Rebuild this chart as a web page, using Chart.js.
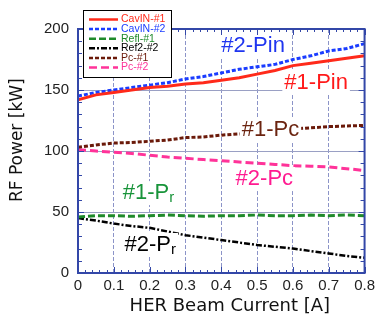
<!DOCTYPE html>
<html>
<head>
<meta charset="utf-8">
<script src="https://cdn.jsdelivr.net/npm/chart.js@4"></script>
<style>
  html, body { margin: 0; padding: 0; background: #fff; }
  #wrap { width: 379px; height: 317px; }
</style>
</head>
<body>
<div id="wrap"><canvas id="rfChart" width="379" height="317"></canvas></div>
<script>
// beam current [A]
const BEAM_CURRENT = [0, 0.05, 0.1, 0.15, 0.2, 0.25, 0.3, 0.35, 0.4, 0.45, 0.5, 0.55, 0.6, 0.65, 0.7, 0.75, 0.8];

// RF power [kW]
const CAVIN_1 = [142, 146, 148, 150, 152, 153, 155, 156, 158, 160, 163, 166, 170, 172, 174, 176, 178];
const CAVIN_2 = [145, 148, 150, 152, 154, 156, 159, 161, 164, 167, 169, 171, 175, 178, 182, 184, 188];
const REFL_1 = [46, 47, 47, 46.5, 47, 47.5, 47, 46.5, 47, 47, 47.5, 47, 47, 47.5, 47, 47.5, 47];
const REF2_2 = [45, 43, 40.5, 38.5, 37, 34, 31, 29, 27, 25, 23, 21.5, 20, 18, 16, 14, 12.5];
const PC_1 = [103, 105, 106.5, 107, 108, 109, 111, 111.5, 113, 114, 115, 116, 118, 119, 120, 120.5, 121];
const PC_2 = [101, 100, 99, 98, 96.5, 95, 94, 93, 92, 91, 90, 89, 88, 87.5, 87, 85.5, 84];

const X_TICKS = [0, 0.1, 0.2, 0.3, 0.4, 0.5, 0.6, 0.7, 0.8];
const Y_TICKS = [0, 50, 100, 150, 200];

const FONT = 'Liberation Sans, Arial, sans-serif';
const TITLE_FONT = 'DejaVu Sans, sans-serif';
const FRAME = '#3347a8';

function pts(ys) {
  return ys.map((y, i) => ({ x: BEAM_CURRENT[i], y }));
}

function series(label, ys, color, dash, width) {
  return {
    label,
    data: pts(ys),
    borderColor: color,
    backgroundColor: color,
    borderDash: dash,
    borderWidth: width,
    pointRadius: 0,
    tension: 0,
    fill: false,
  };
}

/* ---- text labels inside the plot ---- */
const TAGS = [
  { text: '#2-Pin', sub: '', x: 0.40, y: 186, color: '#1f35f0' },
  { text: '#1-Pin', sub: '', x: 0.576, y: 156, color: '#ff1a1a' },
  { text: '#1-Pc', sub: '', x: 0.457, y: 117, color: '#6b2410' },
  { text: '#2-Pc', sub: '', x: 0.44, y: 77, color: '#ff1a90' },
  { text: '#1-P', sub: 'r', x: 0.125, y: 65.5, color: '#18943a' },
  { text: '#2-P', sub: 'r', x: 0.130, y: 23, color: '#000' },
];

const tagPlugin = {
  id: 'tags',
  afterDatasetsDraw(chart) {
    const { ctx, scales: { x, y } } = chart;
    ctx.save();
    ctx.textBaseline = 'middle';
    TAGS.forEach((t) => {
      const px = x.getPixelForValue(t.x);
      const py = y.getPixelForValue(t.y);
      ctx.font = `22px ${FONT}`;
      const w1 = ctx.measureText(t.text).width;
      ctx.font = `15px ${FONT}`;
      const w2 = t.sub ? ctx.measureText(t.sub).width : 0;
      ctx.fillStyle = '#fff';
      ctx.fillRect(px - 2, py - 12, w1 + w2 + 4, 24);
      ctx.fillStyle = t.color;
      ctx.font = `22px ${FONT}`;
      ctx.fillText(t.text, px, py);
      if (t.sub) {
        ctx.font = `15px ${FONT}`;
        ctx.fillText(t.sub, px + w1, py + 5);
      }
    });
    ctx.restore();
  },
};

/* ---- frame, inner ticks and legend ---- */
const framePlugin = {
  id: 'frame',
  afterDraw(chart) {
    const { ctx, chartArea: a, scales: { x, y } } = chart;
    ctx.save();
    ctx.strokeStyle = FRAME;
    ctx.lineWidth = 1;
    ctx.beginPath();
    for (let v = 0; v <= 200; v += 10) {
      const py = Math.round(y.getPixelForValue(v)) + 0.5;
      const len = v % 50 === 0 ? 6 : 4;
      ctx.moveTo(a.left, py); ctx.lineTo(a.left + len, py);
      ctx.moveTo(a.right, py); ctx.lineTo(a.right - len, py);
    }
    for (let k = 0; k <= 40; k++) {
      const px = Math.round(x.getPixelForValue(k * 0.02)) + 0.5;
      const len = k % 5 === 0 ? 6 : 3;
      ctx.moveTo(px, a.bottom); ctx.lineTo(px, a.bottom - len);
      ctx.moveTo(px, a.top); ctx.lineTo(px, a.top + len);
    }
    ctx.stroke();
    ctx.lineWidth = 2;
    ctx.strokeRect(a.left, a.top, a.right - a.left, a.bottom - a.top);

    // legend box
    const bx = 83, by = 10, bw = 88, bh = 67;
    ctx.fillStyle = '#fff';
    ctx.fillRect(bx, by, bw, bh);
    ctx.strokeStyle = '#000';
    ctx.lineWidth = 1;
    ctx.strokeRect(bx + 0.5, by + 0.5, bw, bh);
    ctx.font = `10.5px ${FONT}`;
    ctx.textBaseline = 'middle';
    chart.data.datasets.forEach((ds, i) => {
      const ry = by + 9.5 + i * 9.6;
      ctx.strokeStyle = ds.borderColor;
      ctx.lineWidth = 2.5;
      ctx.setLineDash(ds.borderDash || []);
      ctx.beginPath();
      ctx.moveTo(bx + 6, ry);
      ctx.lineTo(bx + 35, ry);
      ctx.stroke();
      ctx.setLineDash([]);
      ctx.fillStyle = ds.legendText;
      ctx.fillText(ds.label, bx + 38, ry);
    });
    ctx.restore();
  },
};

const datasets = [
  series('CavIN-#1', CAVIN_1, '#ff2a1a', [], 3),
  series('CavIN-#2', CAVIN_2, '#1a3cff', [4, 2], 3),
  series('Refl-#1', REFL_1, '#1f8a2a', [7, 3], 3),
  series('Ref2-#2', REF2_2, '#000000', [6, 2, 2, 2], 2.5),
  series('Pc-#1', PC_1, '#6b1a0a', [4, 2], 3),
  series('Pc-#2', PC_2, '#ff3399', [8, 4], 3),
];
const LEGEND_TEXT = ['#ff2a1a', '#1a3cff', '#1f8a2a', '#000000', '#6b1a0a', '#ff3399'];
datasets.forEach((d, i) => { d.legendText = LEGEND_TEXT[i]; });

new Chart(document.getElementById('rfChart'), {
  type: 'line',
  data: { datasets },
  options: {
    responsive: false,
    animation: false,
    layout: { padding: { top: 29, right: 12, left: 0, bottom: 0 } },
    plugins: { legend: { display: false }, tooltip: { enabled: false } },
    scales: {
      x: {
        type: 'linear',
        min: 0,
        max: 0.8,
        afterFit: (s) => { s.height = 44; },
        afterBuildTicks: (s) => { s.ticks = X_TICKS.map((v) => ({ value: v })); },
        grid: { color: '#8c94c8', lineWidth: 1, drawTicks: false },
        border: { display: false, dash: [4, 2] },
        ticks: {
          padding: 4,
          color: '#222',
          font: { family: FONT, size: 15 },
          maxRotation: 0,
          callback: (v) => String(Math.round(v * 10) / 10),
        },
        title: {
          display: true,
          text: '   HER Beam Current [A]',
          color: '#111',
          font: { family: TITLE_FONT, size: 18 },
          padding: { top: 0, bottom: 0 },
        },
      },
      y: {
        min: 0,
        max: 200,
        afterFit: (s) => { s.width = 78; },
        afterBuildTicks: (s) => { s.ticks = Y_TICKS.map((v) => ({ value: v })); },
        grid: { color: '#9aa0c4', lineWidth: 1, drawTicks: false },
        border: { display: false },
        ticks: {
          padding: 9,
          color: '#222',
          font: { family: FONT, size: 15 },
        },
        title: {
          display: true,
          text: '    RF Power [kW]',
          color: '#111',
          font: { family: TITLE_FONT, size: 17 },
          padding: { top: 7, bottom: 0 },
        },
      },
    },
  },
  plugins: [tagPlugin, framePlugin],
});
</script>
</body>
</html>
